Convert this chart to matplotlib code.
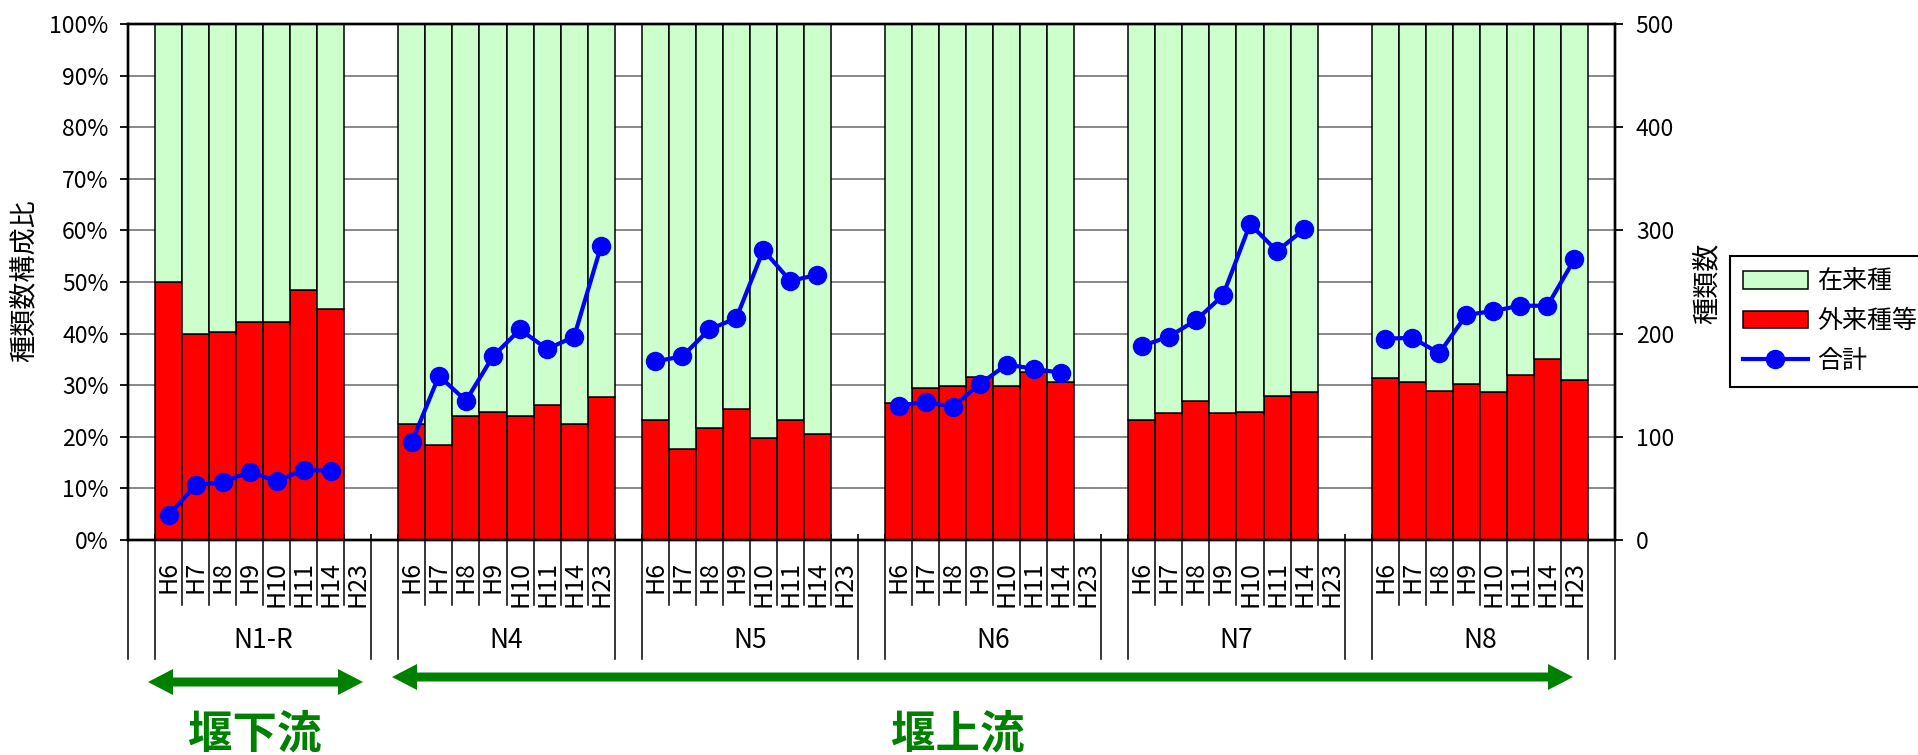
import numpy as np
import matplotlib
matplotlib.use("Agg")
import matplotlib.pyplot as plt
from matplotlib.patches import Patch, Polygon
from matplotlib.lines import Line2D
from matplotlib.transforms import blended_transform_factory

plt.rcParams['font.family'] = ['Noto Sans CJK JP', 'DejaVu Sans']

# ---------------- data ----------------
stations = ["N1-R", "N4", "N5", "N6", "N7", "N8"]
years = ["H6", "H7", "H8", "H9", "H10", "H11", "H14", "H23"]

nan = np.nan
# 外来種等 ratio (%) per station, per year
alien_n1r = [50.0, 39.9, 40.3, 42.3, 42.3, 48.4, 44.7, nan]
alien_n4 = [22.5, 18.5, 24.1, 24.9, 24.1, 26.2, 22.4, 27.8]
alien_n5 = [23.3, 17.7, 21.7, 25.4, 19.7, 23.3, 20.5, nan]
alien_n6 = [26.5, 29.4, 29.9, 31.5, 29.8, 32.5, 30.6, nan]
alien_n7 = [23.3, 24.6, 27.0, 24.6, 24.9, 27.9, 28.6, nan]
alien_n8 = [31.4, 30.6, 28.9, 30.3, 28.6, 31.9, 35.1, 31.0]

# 合計 (number of species)
total_n1r = [24, 53, 56, 66, 57, 68, 67, nan]
total_n4 = [95, 159, 135, 178, 204, 185, 197, 285]
total_n5 = [173, 178, 204, 215, 281, 251, 257, nan]
total_n6 = [130, 134, 129, 151, 170, 166, 162, nan]
total_n7 = [188, 197, 213, 237, 306, 280, 301, nan]
total_n8 = [195, 196, 181, 218, 222, 227, 227, 272]

alien = [alien_n1r, alien_n4, alien_n5, alien_n6, alien_n7, alien_n8]
total = [total_n1r, total_n4, total_n5, total_n6, total_n7, total_n8]

legend_labels = ["在来種", "外来種等", "合計"]
c_native = "#CCFFCC"
c_alien = "#FF0000"
c_line = "#0000FF"
c_green = "#008000"

# ---------------- layout ----------------
W, H = 1918, 755
fig = plt.figure(figsize=(W / 100, H / 100), dpi=100)
AX_L, AX_R, AX_T, AX_B = 128, 1615, 24, 540
ax = fig.add_axes([AX_L / W, 1 - AX_B / H, (AX_R - AX_L) / W, (AX_B - AX_T) / H])

n_years = len(years)
step = n_years + 1
n_slots = 1 + len(stations) * step


def pos(g, k):
    return 1 + g * step + k


bx, red = [], []
line_y = np.full(n_slots, np.nan)
tick_pos, tick_lab = [], []
for g in range(len(stations)):
    for k in range(n_years):
        x = pos(g, k)
        tick_pos.append(x)
        tick_lab.append(years[k])
        if not np.isnan(alien[g][k]):
            bx.append(x)
            red.append(alien[g][k] / 100.0)
        line_y[x] = total[g][k]
bx = np.array(bx)
red = np.array(red)

ax.bar(bx, red, width=1.0, color=c_alien, edgecolor="black", linewidth=1.1, zorder=2)
ax.bar(bx, 1 - red, bottom=red, width=1.0, color=c_native, edgecolor="black",
       linewidth=1.1, zorder=2)

ax.set_xlim(-0.5, n_slots - 0.5)
ax.set_ylim(0, 1)
ax.set_yticks(np.arange(0, 1.001, 0.1))
ax.set_yticklabels([f"{int(round(v * 100))}%" for v in np.arange(0, 1.001, 0.1)])
ax.yaxis.grid(True, color="#808080", linewidth=1.3)
ax.set_axisbelow(True)
ax.tick_params(axis="y", direction="out", length=6, width=1.3, pad=8, labelsize=16.5)

ax.set_xticks(tick_pos)
ax.set_xticklabels(tick_lab, rotation=90)
ax.tick_params(axis="x", which="major", length=0, pad=15, labelsize=18)
minor = []
for g in range(len(stations)):
    for k in range(n_years + 1):
        minor.append(pos(g, k) - 0.5)
ax.set_xticks(minor, minor=True)
ax.tick_params(axis="x", which="minor", direction="in", length=4, width=1.2)

ax2 = ax.twinx()
ax2.plot(np.arange(n_slots), line_y, color=c_line, linewidth=3, marker="o",
         markersize=13, zorder=3)
ax2.set_ylim(0, 500)
ax2.set_yticks(np.arange(0, 501, 100))
ax2.tick_params(axis="y", direction="out", length=6, width=1.3, pad=9, labelsize=16.5)

for a in (ax, ax2):
    for s in a.spines.values():
        s.set_linewidth(1.7)
        s.set_color("black")

# ---------------- category label area ----------------
trans = blended_transform_factory(ax.transData, fig.transFigure)


def fy(ypx):
    return 1 - ypx / H


def vline(x, y0, y1):
    ax.plot([x, x], [fy(y0), fy(y1)], transform=trans, color="black",
            linewidth=1.1, clip_on=False)


vline(-0.5, AX_B, 659)
vline(n_slots - 0.5, AX_B, 659)
for g, name in enumerate(stations):
    x0 = pos(g, 0) - 0.5
    x1 = pos(g, n_years - 1) + 0.5
    vline(x0, AX_B, 659)
    vline(x1, AX_B, 659)
    for k in range(1, n_years):
        vline(pos(g, k) - 0.5, AX_B, 605)
    ax.text((x0 + x1) / 2, fy(641), name, transform=trans, ha="center",
            va="center", fontsize=19)

# ---------------- axis titles ----------------
fig.text(24 / W, fy(281), "種類数構成比", rotation=90, ha="center", va="center",
         fontsize=19.5)
fig.text(1707 / W, fy(283), "種類数", rotation=90, ha="center", va="center",
         fontsize=19.5)

# ---------------- legend ----------------
handles = [
    Patch(facecolor=c_native, edgecolor="black", linewidth=1.1),
    Patch(facecolor=c_alien, edgecolor="black", linewidth=1.1),
    Line2D([], [], color=c_line, linewidth=3, marker="o", markersize=13),
]
leg = fig.legend(handles, legend_labels, loc="upper left",
                 bbox_to_anchor=(1730 / W, fy(256)), borderaxespad=0,
                 frameon=True, fancybox=False, edgecolor="black", framealpha=1,
                 fontsize=18, handlelength=2.6, handleheight=0.7,
                 handletextpad=0.4, labelspacing=0.55, borderpad=0.5)
leg.get_frame().set_linewidth(1.5)


# ---------------- arrows & annotations ----------------
def double_arrow(x0, x1, y, color, hl=25, hw=13, st=4.5):
    pts = [(x0, y), (x0 + hl, y - hw), (x0 + hl, y - st), (x1 - hl, y - st),
           (x1 - hl, y - hw), (x1, y), (x1 - hl, y + hw), (x1 - hl, y + st),
           (x0 + hl, y + st), (x0 + hl, y + hw)]
    pts = [(px / W, fy(py)) for px, py in pts]
    fig.add_artist(Polygon(pts, closed=True, facecolor=color, edgecolor="none",
                           transform=fig.transFigure))


double_arrow(148, 363, 682, c_green)
double_arrow(392, 1573, 677, c_green)
fig.text(255 / W, fy(735), "堰下流", color=c_green, fontsize=32,
         fontweight="bold", ha="center", va="center")
fig.text(958 / W, fy(735), "堰上流", color=c_green, fontsize=32,
         fontweight="bold", ha="center", va="center")

fig.savefig("out.png", dpi=100)
